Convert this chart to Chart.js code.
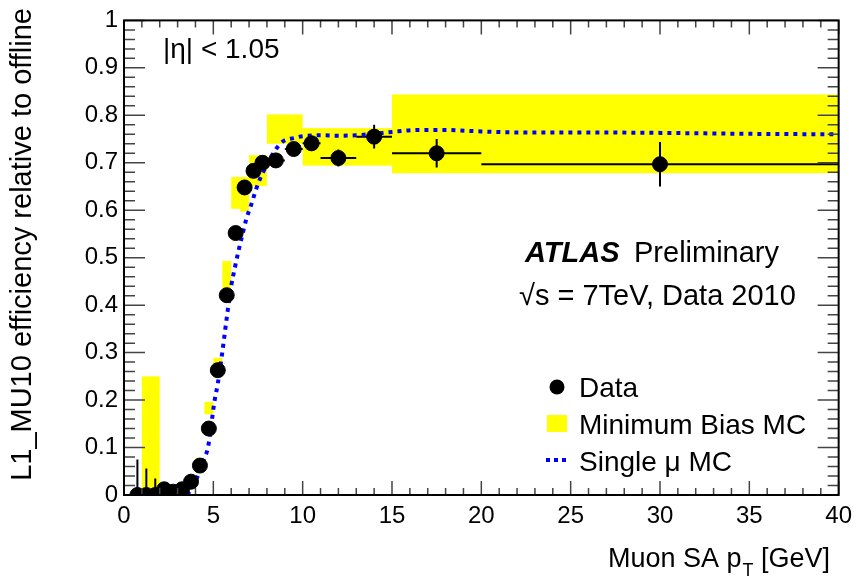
<!DOCTYPE html>
<html>
<head>
<meta charset="utf-8">
<script src="https://cdn.jsdelivr.net/npm/chart.js@4.4.0/dist/chart.umd.min.js"></script>
<style>
  html, body { margin: 0; padding: 0; background: #fff; }
  #wrap { width: 859px; height: 583px; }
</style>
</head>
<body>
<div id="wrap"><canvas id="effChart" width="859" height="583"></canvas></div>
<script>
// Data points (bin centre, half bin width, efficiency, stat error)
const dataX    = [0.75, 1.25, 1.75, 2.25, 2.75, 3.25, 3.75, 4.25, 4.75, 5.25, 5.75, 6.25, 6.75, 7.25, 7.75, 8.5, 9.5, 10.5, 12, 14, 17.5, 30];
const dataXErr = [0.25, 0.25, 0.25, 0.25, 0.25, 0.25, 0.25, 0.25, 0.25, 0.25, 0.25, 0.25, 0.25, 0.25, 0.25, 0.5, 0.5, 0.5, 1, 1, 2.5, 10];
const dataY    = [0, 0, 0, 0.012, 0.007, 0.012, 0.028, 0.062, 0.14, 0.263, 0.421, 0.552, 0.648, 0.683, 0.70, 0.705, 0.729, 0.741, 0.71, 0.755, 0.72, 0.697];
const dataYErr = [0.075, 0.056, 0.035, 0.01, 0.01, 0.01, 0.01, 0.01, 0.01, 0.01, 0.01, 0.01, 0.01, 0.01, 0.01, 0.01, 0.012, 0.015, 0.018, 0.025, 0.03, 0.047];

// Minimum Bias MC bands (bin edges and efficiency range)
const mbLo  = [1, 4, 4.5, 5, 5.5, 6, 6.5, 7, 8, 10, 15];
const mbHi  = [2, 4.5, 5, 5.5, 6, 6.5, 7, 8, 10, 15, 40];
const mbYLo = [0, 0.066, 0.170, 0.249, 0.437, 0.603, 0.597, 0.651, 0.740, 0.694, 0.678];
const mbYHi = [0.25, 0.078, 0.196, 0.289, 0.493, 0.670, 0.670, 0.716, 0.802, 0.773, 0.844];

// Single muon MC curve
const muX = [3.55, 3.85, 4.15, 4.45, 4.7, 4.9, 5.05, 5.25, 5.5, 5.75, 6.0, 6.2, 6.4, 6.6, 6.85, 7.15, 7.4, 7.6, 8.0, 8.45, 8.9, 9.5, 10, 11, 12, 13, 14, 15, 16.5, 18, 20, 22, 25, 30, 35, 40];
const muY = [0, 0.019, 0.042, 0.073, 0.1, 0.152, 0.194, 0.235, 0.3, 0.373, 0.44, 0.478, 0.513, 0.544, 0.582, 0.615, 0.645, 0.665, 0.696, 0.726, 0.745, 0.752, 0.756, 0.758, 0.757, 0.758, 0.761, 0.765, 0.769, 0.769, 0.766, 0.764, 0.764, 0.763, 0.761, 0.760];

// Axis ranges
const xRange = [0, 40];
const yRange = [0, 1];

const FONT = '"Liberation Sans", Arial, Helvetica, sans-serif';
const BLUE = '#0000ff';
const YELLOW = '#ffff00';

// Draws MC bands, error bars, frame with inner ticks, labels and legend
const atlasPlugin = {
    id: 'atlasStyle',

    beforeDatasetsDraw(chart) {
        const { ctx, chartArea: a, scales: { x, y } } = chart;
        ctx.save();
        ctx.beginPath();
        ctx.rect(a.left, a.top, a.right - a.left, a.bottom - a.top);
        ctx.clip();

        // yellow MC boxes
        ctx.fillStyle = YELLOW;
        mbLo.forEach((lo, i) => {
            const x0 = x.getPixelForValue(lo);
            const x1 = x.getPixelForValue(mbHi[i]);
            const y0 = y.getPixelForValue(mbYHi[i]);
            const y1 = y.getPixelForValue(mbYLo[i]);
            ctx.fillRect(x0, y0, x1 - x0, y1 - y0);
        });

        // error bars of the data
        ctx.strokeStyle = '#000';
        ctx.lineWidth = 2;
        dataX.forEach((v, i) => {
            const px = x.getPixelForValue(v);
            const py = y.getPixelForValue(dataY[i]);
            ctx.beginPath();
            ctx.moveTo(x.getPixelForValue(v - dataXErr[i]), py);
            ctx.lineTo(x.getPixelForValue(v + dataXErr[i]), py);
            ctx.moveTo(px, y.getPixelForValue(dataY[i] - dataYErr[i]));
            ctx.lineTo(px, y.getPixelForValue(dataY[i] + dataYErr[i]));
            ctx.stroke();
        });
        ctx.restore();
    },

    afterDraw(chart) {
        const { ctx, chartArea: a, scales: { x, y } } = chart;
        ctx.save();

        // inner ticks, ROOT style
        ctx.strokeStyle = '#444';
        ctx.lineWidth = 1.5;
        ctx.beginPath();
        for (let v = xRange[0]; v <= xRange[1] + 1e-9; v += 1) {
            const px = x.getPixelForValue(v);
            const len = (Math.round(v) % 5 === 0) ? 14 : 7;
            ctx.moveTo(px, a.bottom); ctx.lineTo(px, a.bottom - len);
            ctx.moveTo(px, a.top); ctx.lineTo(px, a.top + len);
        }
        for (let k = 0; k <= 50; k++) {
            const v = k * 0.02;
            const py = y.getPixelForValue(v);
            const len = (k % 5 === 0) ? 21 : 11;
            ctx.moveTo(a.left, py); ctx.lineTo(a.left + len, py);
            ctx.moveTo(a.right, py); ctx.lineTo(a.right - len, py);
        }
        ctx.stroke();

        // frame
        ctx.strokeStyle = '#000';
        ctx.lineWidth = 2;
        ctx.strokeRect(a.left, a.top, a.right - a.left, a.bottom - a.top);

        ctx.fillStyle = '#000';
        ctx.textBaseline = 'alphabetic';

        // axis titles
        ctx.font = '27px ' + FONT;
        const t1 = 'Muon SA p', t2 = 'T', t3 = ' [GeV]';
        const w1 = ctx.measureText(t1).width;
        const w3 = ctx.measureText(t3).width;
        ctx.font = '18px ' + FONT;
        const w2 = ctx.measureText(t2).width;
        let tx = 829 - (w1 + w2 + w3);
        ctx.font = '27px ' + FONT;
        ctx.textAlign = 'left';
        ctx.fillText(t1, tx, 567);
        ctx.font = '18px ' + FONT;
        ctx.fillText(t2, tx + w1 + 1, 576);
        ctx.font = '27px ' + FONT;
        ctx.fillText(t3, tx + w1 + w2 + 1, 567);

        ctx.save();
        ctx.translate(31, 8);
        ctx.rotate(-Math.PI / 2);
        ctx.font = '29px ' + FONT;
        ctx.textAlign = 'right';
        ctx.fillText('L1_MU10 efficiency relative to offline', 0, 0);
        ctx.restore();

        // labels in the plot
        ctx.textAlign = 'left';
        ctx.font = '28px ' + FONT;
        ctx.fillText('|\u03B7| < 1.05', 163, 58);
        ctx.font = 'italic bold 29px ' + FONT;
        ctx.fillText('ATLAS', 525, 262);
        ctx.font = '29px ' + FONT;
        ctx.fillText('Preliminary', 634, 262);
        ctx.fillText('\u221As = 7TeV, Data 2010', 519, 305);

        // legend
        ctx.font = '28px ' + FONT;
        ctx.beginPath();
        ctx.arc(557, 387, 7.5, 0, Math.PI * 2);
        ctx.fill();
        ctx.fillText('Data', 579, 397);
        ctx.fillStyle = YELLOW;
        ctx.fillRect(547, 415, 20, 17);
        ctx.fillStyle = '#000';
        ctx.fillText('Minimum Bias MC', 579, 434);
        ctx.strokeStyle = BLUE;
        ctx.lineWidth = 4;
        ctx.setLineDash([4, 4]);
        ctx.beginPath();
        ctx.moveTo(546, 460); ctx.lineTo(568, 460);
        ctx.stroke();
        ctx.setLineDash([]);
        ctx.fillText('Single \u03BC MC', 579, 471);

        ctx.restore();
    }
};

const ctx = document.getElementById('effChart');
const effChart = new Chart(ctx, {
    type: 'scatter',
    data: {
        datasets: [
            {
                label: 'Data',
                data: dataX.map((v, i) => ({ x: v, y: dataY[i] })),
                backgroundColor: '#000',
                borderColor: '#000',
                pointRadius: 7.5,
                pointHoverRadius: 7.5,
                order: 0
            },
            {
                label: 'Single \u03BC MC',
                data: muX.map((v, i) => ({ x: v, y: muY[i] })),
                showLine: true,
                borderColor: BLUE,
                borderWidth: 4,
                borderDash: [4, 5],
                borderCapStyle: 'butt',
                cubicInterpolationMode: 'monotone',
                pointRadius: 0,
                order: 1
            }
        ]
    },
    options: {
        responsive: false,
        animation: false,
        layout: { padding: { top: 14, right: 20, left: 0, bottom: 0 } },
        plugins: {
            legend: { display: false },
            tooltip: { enabled: false }
        },
        scales: {
            x: {
                type: 'linear',
                min: xRange[0],
                max: xRange[1],
                grid: { display: false, drawTicks: false },
                border: { display: false },
                ticks: {
                    stepSize: 5,
                    padding: 7,
                    color: '#000',
                    maxRotation: 0,
                    font: { family: FONT, size: 24 }
                },
                afterFit: (scale) => { scale.height = 88; }
            },
            y: {
                type: 'linear',
                min: yRange[0],
                max: yRange[1],
                grid: { display: false, drawTicks: false },
                border: { display: false },
                ticks: {
                    stepSize: 0.1,
                    padding: 6,
                    color: '#000',
                    font: { family: FONT, size: 24 },
                    callback: (v) => String(+v.toFixed(1))
                },
                afterFit: (scale) => { scale.width = 124; }
            }
        }
    },
    plugins: [atlasPlugin]
});
</script>
</body>
</html>
